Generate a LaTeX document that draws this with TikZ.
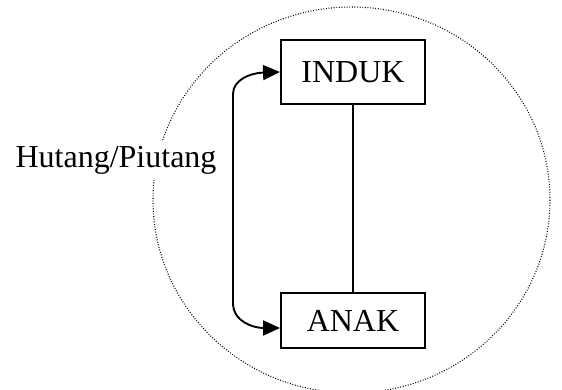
\documentclass[tikz,border=0pt]{standalone}
\usepackage{fontspec}
\setmainfont{Liberation Serif}
\usetikzlibrary{arrows.meta}
\tikzset{
  box/.style={draw, line width=1.9pt, minimum width=144pt, inner sep=0pt, fill=white, font=\fontsize{32}{38}\selectfont},
  lbl/.style={font=\fontsize{32}{38}\selectfont, inner sep=4pt, fill=white},
  arr/.style={line width=1.9pt, {Triangle[length=17pt,width=15pt]}-{Triangle[length=17pt,width=15pt]}},
  link/.style={line width=1.6pt},
  ring/.style={line width=1.1pt, dash pattern=on 0.9pt off 1.7pt}
}
\begin{document}
\begin{tikzpicture}[x=1pt,y=-1pt]
\useasboundingbox (0,0) rectangle (562,389);
\clip (0,0) rectangle (562,389);
\draw[ring] (351.5,200) ellipse [x radius=198.5, y radius=193];
\node[box, minimum height=64pt] (induk) at (353,72) {INDUK};
\node[box, minimum height=55pt] (anak) at (353,320.5) {ANAK};
\node[lbl] (hp) at (116,160) {Hutang/Piutang};
\draw[link] (induk.south) -- (anak.north);
\coordinate (a) at ([yshift=-7.5pt]anak.west);
\draw[arr] (a) .. controls (254,328) and (233,322) .. (233,303) -- (233,94) .. controls (233,80) and (250,73) .. (induk.west);
\end{tikzpicture}
\end{document}
